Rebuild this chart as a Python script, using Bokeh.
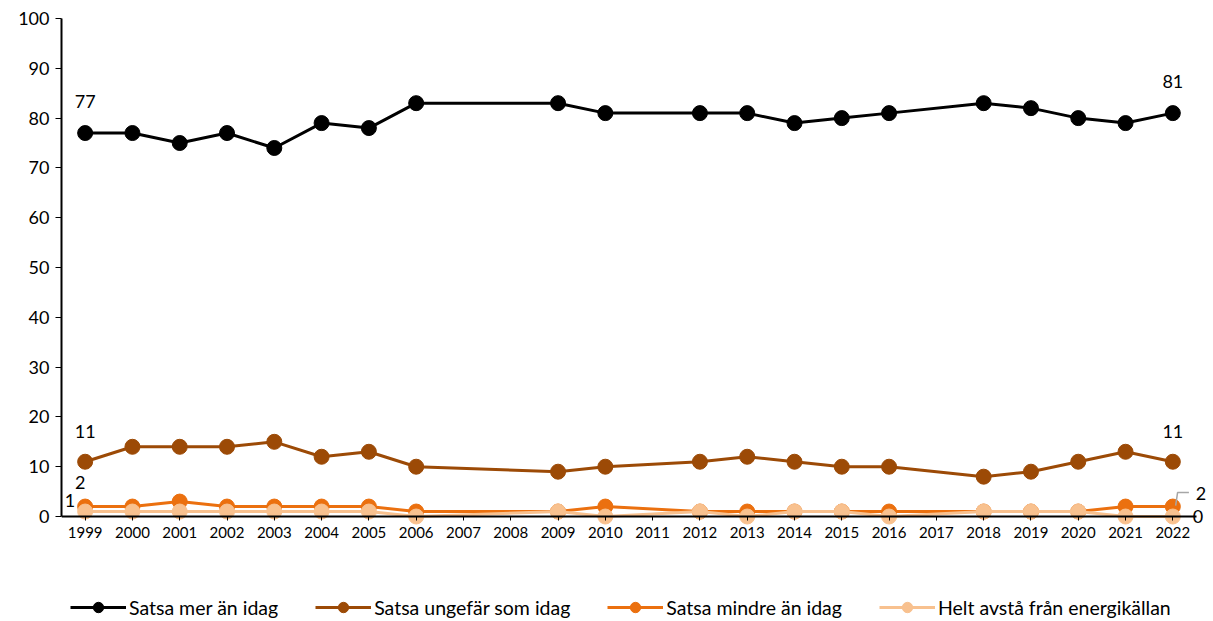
from bokeh.plotting import figure
from bokeh.models import Legend, LegendItem, Range1d, SingleIntervalTicker, FixedTicker
from bokeh.core.properties import value
from bokeh.embed import file_html
from bokeh.resources import INLINE

axis_years = ["1999", "2000", "2001", "2002", "2003", "2004", "2005", "2006", "2007", "2008",
              "2009", "2010", "2011", "2012", "2013", "2014", "2015", "2016", "2017", "2018",
              "2019", "2020", "2021", "2022"]
years = ["1999", "2000", "2001", "2002", "2003", "2004", "2005", "2006", "2009", "2010",
         "2012", "2013", "2014", "2015", "2016", "2018", "2019", "2020", "2021", "2022"]
mer = [77, 77, 75, 77, 74, 79, 78, 83, 83, 81, 81, 81, 79, 80, 81, 83, 82, 80, 79, 81]
ungefar = [11, 14, 14, 14, 15, 12, 13, 10, 9, 10, 11, 12, 11, 10, 10, 8, 9, 11, 13, 11]
mindre = [2, 2, 3, 2, 2, 2, 2, 1, 1, 2, 1, 1, 1, 1, 1, 1, 1, 1, 2, 2]
avsta = [1, 1, 1, 1, 1, 1, 1, 0, 1, 0, 1, 0, 1, 1, 0, 1, 1, 1, 0, 0]
names = ["Satsa mer än idag", "Satsa ungefär som idag", "Satsa mindre än idag",
         "Helt avstå från energikällan"]
colors = ["#000000", "#9C4A06", "#EB700F", "#F8C18F"]

FONT = "Lato"

# category positions along the axis
xi = [axis_years.index(y) for y in years]
n = len(axis_years)

p = figure(width=1213, height=621, x_range=Range1d(-0.5, n - 0.5 + 0.36),
           y_range=Range1d(-21.08, 100), output_backend="svg", toolbar_location=None,
           min_border_left=61, min_border_right=0, min_border_top=18, min_border_bottom=0)
p.outline_line_color = None
p.xgrid.grid_line_color = None
p.ygrid.grid_line_color = None
p.background_fill_color = "white"
p.border_fill_color = "white"

p.yaxis.ticker = SingleIntervalTicker(interval=10)
p.yaxis.bounds = (0, 100)
p.xaxis.ticker = FixedTicker(ticks=list(range(n)))
p.xaxis.major_label_overrides = {i: y for i, y in enumerate(axis_years)}
p.xaxis.bounds = (-0.5, n - 0.5)
p.xaxis.fixed_location = 0
for ax in (p.xaxis[0], p.yaxis[0]):
    ax.axis_line_color = "black"
    ax.axis_line_width = 2
    ax.major_tick_line_color = "black"
    ax.major_tick_line_width = 1
    ax.minor_tick_line_color = None
    ax.major_tick_in = 0
    ax.major_label_text_font = FONT
    ax.major_label_text_color = "black"
p.yaxis.major_tick_out = 6
p.yaxis.major_label_text_font_size = "18px"
p.yaxis.major_label_standoff = 6
p.xaxis.major_tick_out = 4
p.xaxis.major_label_text_font_size = "15px"
p.xaxis.major_label_standoff = 6

series = [mer, ungefar, mindre, avsta]
items = []
for vals, name, col in zip(series, names, colors):
    l = p.line(xi, vals, line_color=col, line_width=3)
    c = p.scatter(xi, vals, size=15, fill_color=col, line_color=col)
    items.append(LegendItem(label=name, renderers=[l, c]))

lbl = dict(text_font=value(FONT), text_font_size="18px", text_color="black")
# first / last data labels
p.text(x=[xi[0], xi[-1]], y=[mer[0], mer[-1]], text=[str(mer[0]), str(mer[-1])],
       text_align="center", text_baseline="bottom", y_offset=-25, **lbl)
p.text(x=[xi[0], xi[-1]], y=[ungefar[0], ungefar[-1]],
       text=[str(ungefar[0]), str(ungefar[-1])],
       text_align="center", text_baseline="bottom", y_offset=-24, **lbl)
p.text(x=[xi[0]], y=[mindre[0]], text=[str(mindre[0])],
       text_align="center", text_baseline="middle", x_offset=-5, y_offset=-24, **lbl)
p.text(x=[xi[0]], y=[avsta[0]], text=[str(avsta[0])],
       text_align="right", text_baseline="middle", x_offset=-10, y_offset=-11, **lbl)
p.text(x=[xi[-1]], y=[mindre[-1]], text=[str(mindre[-1])],
       text_align="left", text_baseline="middle", x_offset=23, y_offset=-13, **lbl)
p.text(x=[xi[-1]], y=[avsta[-1]], text=[str(avsta[-1])],
       text_align="left", text_baseline="middle", x_offset=20, y_offset=0, **lbl)
# leader line for the last "2"
p.line(x=[xi[-1] + 0.06, xi[-1] + 0.1, xi[-1] + 0.34],
       y=[mindre[-1] + 0.2, mindre[-1] + 2.8, mindre[-1] + 2.8],
       line_color="#A6A6A6", line_width=1.5)

legend = Legend(items=items, orientation="horizontal", location=(9, 1),
                glyph_width=56, glyph_height=26, label_standoff=3, spacing=37,
                label_text_font=FONT, label_text_font_size="19.5px",
                label_text_color="black", border_line_color=None,
                background_fill_alpha=0, padding=0, margin=0)
p.add_layout(legend, "center")

open("out.html", "w").write(file_html(p, INLINE))
